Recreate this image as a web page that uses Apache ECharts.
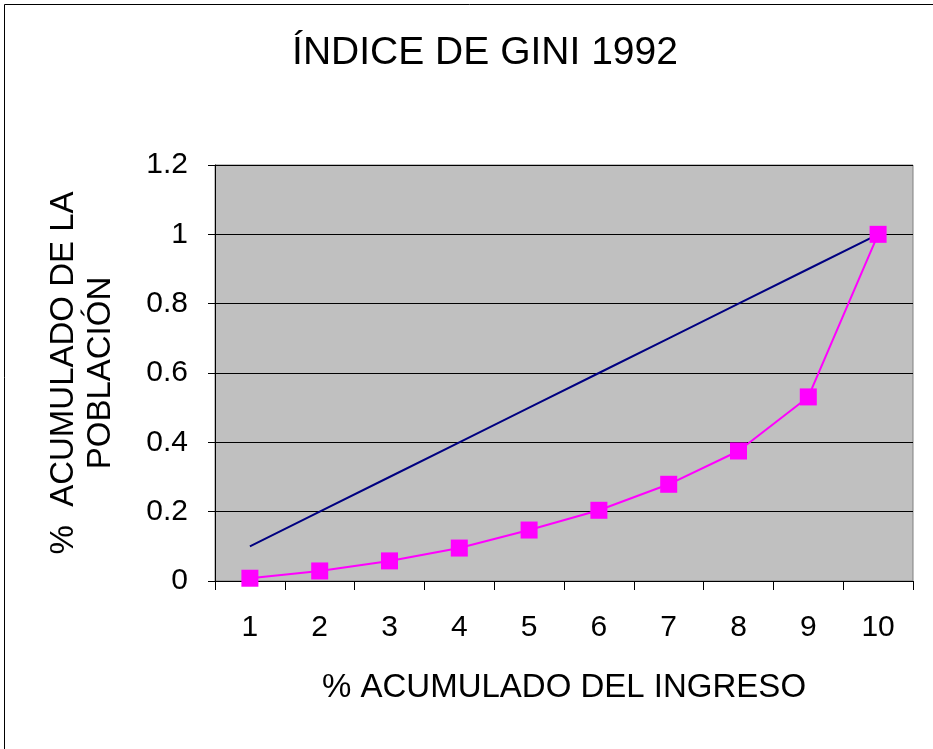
<!DOCTYPE html>
<html>
<head>
<meta charset="utf-8">
<script src="https://cdn.jsdelivr.net/npm/echarts@6/dist/echarts.min.js"></script>
<style>
  html, body { margin: 0; padding: 0; background: #ffffff; }
  #chart { width: 933px; height: 749px; }
</style>
</head>
<body>
<div id="chart"></div>
<script>
// Deciles of the distribution (x axis)
const categories = ['1', '2', '3', '4', '5', '6', '7', '8', '9', '10'];
// Line of perfect equality
const equality = [0.1, 0.2, 0.3, 0.4, 0.5, 0.6, 0.7, 0.8, 0.9, 1.0];
// Lorenz curve, 1992
const lorenz = [0.008, 0.029, 0.058, 0.095, 0.147, 0.204, 0.279, 0.375, 0.531, 1.0];

const FONT = '"Liberation Sans", Arial, sans-serif';

const chart = echarts.init(document.getElementById('chart'), null, { renderer: 'canvas' });

chart.setOption({
  backgroundColor: '#ffffff',
  animation: false,
  title: {
    text: 'ÍNDICE DE GINI 1992',
    left: 480,
    top: 29,
    textAlign: 'center',
    textStyle: { fontFamily: FONT, fontSize: 39, fontWeight: 'normal', color: '#000000' }
  },
  graphic: [{
    type: 'rect',
    shape: { x: 4.5, y: 4.5, width: 960, height: 780 },
    style: { fill: 'none', stroke: '#000000', lineWidth: 1 },
    silent: true
  }],
  grid: {
    left: 215, right: 20, top: 165, bottom: 168,
    show: true,
    backgroundColor: '#C0C0C0',
    borderColor: '#808080',
    borderWidth: 1
  },
  xAxis: {
    type: 'category',
    data: categories,
    boundaryGap: true,
    name: '% ACUMULADO DEL INGRESO',
    nameLocation: 'middle',
    nameGap: 90,
    nameTextStyle: { fontFamily: FONT, fontSize: 33, color: '#000000' },
    axisLine: { lineStyle: { color: '#000000', width: 1 } },
    axisTick: { show: true, alignWithLabel: false, length: 9, lineStyle: { color: '#000000' } },
    axisLabel: { fontFamily: FONT, fontSize: 30, color: '#000000', margin: 32 },
    splitLine: { show: false }
  },
  yAxis: {
    type: 'value',
    min: 0,
    max: 1.2,
    interval: 0.2,
    name: '%  ACUMULADO DE LA\nPOBLACIÓN',
    nameLocation: 'middle',
    nameGap: 96,
    nameTextStyle: { fontFamily: FONT, fontSize: 33, color: '#000000', lineHeight: 37 },
    axisLine: { show: true, lineStyle: { color: '#000000', width: 1 } },
    axisTick: { show: true, length: 7, lineStyle: { color: '#000000' } },
    axisLabel: { fontFamily: FONT, fontSize: 30, color: '#000000', margin: 27 },
    splitLine: { show: true, lineStyle: { color: '#000000', width: 1 } }
  },
  series: [
    {
      type: 'line',
      data: equality,
      showSymbol: false,
      symbol: 'none',
      lineStyle: { color: '#000080', width: 2 },
      itemStyle: { color: '#000080' },
      z: 2
    },
    {
      type: 'line',
      data: lorenz,
      symbol: 'rect',
      symbolSize: 17,
      lineStyle: { color: '#FF00FF', width: 2 },
      itemStyle: { color: '#FF00FF' },
      z: 3
    }
  ]
});
</script>
</body>
</html>
